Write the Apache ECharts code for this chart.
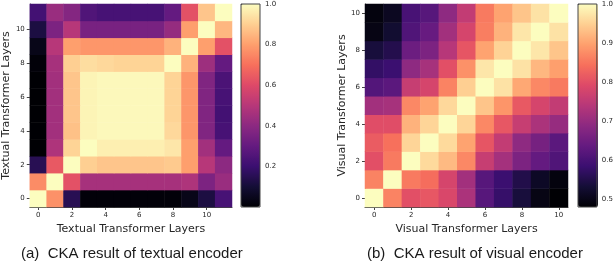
<!DOCTYPE html>
<html>
<head>
<meta charset="utf-8">
<script src="https://cdn.jsdelivr.net/npm/echarts@6/dist/echarts.min.js"></script>
<style>html,body{margin:0;padding:0;background:#fff;}#c{width:616px;height:262px;}</style>
</head>
<body>
<div id="c"></div>
<script>
// ---- data ----
const textualLayers = ['0','1','2','3','4','5','6','7','8','9','10','11'];
const visualLayers = ['0','1','2','3','4','5','6','7','8','9','10'];
// rows listed from layer 0 (bottom) upwards; each row lists columns 0..n
const textualCKA = [
  [1.00, 0.77, 0.15, 0.01, 0.01, 0.01, 0.01, 0.01, 0.01, 0.04, 0.12, 0.23],
  [0.76, 1.00, 0.62, 0.46, 0.46, 0.46, 0.46, 0.46, 0.46, 0.48, 0.36, 0.43],
  [0.15, 0.64, 1.00, 0.90, 0.88, 0.88, 0.88, 0.88, 0.89, 0.80, 0.50, 0.40],
  [0.00, 0.48, 0.91, 1.00, 0.97, 0.97, 0.97, 0.97, 0.95, 0.80, 0.45, 0.30],
  [0.00, 0.45, 0.87, 0.98, 0.99, 0.99, 0.99, 0.99, 0.92, 0.78, 0.37, 0.23],
  [0.00, 0.45, 0.88, 0.98, 0.99, 0.99, 0.99, 0.99, 0.91, 0.78, 0.37, 0.22],
  [0.00, 0.45, 0.88, 0.98, 0.99, 0.99, 0.99, 0.99, 0.91, 0.78, 0.37, 0.23],
  [0.00, 0.45, 0.88, 0.98, 0.99, 0.99, 0.99, 0.99, 0.91, 0.78, 0.37, 0.24],
  [0.01, 0.46, 0.90, 0.93, 0.92, 0.91, 0.91, 0.91, 1.00, 0.84, 0.44, 0.30],
  [0.04, 0.50, 0.80, 0.78, 0.78, 0.78, 0.78, 0.78, 0.84, 1.00, 0.80, 0.62],
  [0.12, 0.36, 0.50, 0.35, 0.35, 0.35, 0.35, 0.35, 0.42, 0.80, 1.00, 0.85],
  [0.22, 0.43, 0.38, 0.25, 0.23, 0.23, 0.23, 0.23, 0.30, 0.62, 0.88, 1.00]
];
const visualCKA = [
  [1.000, 0.865, 0.800, 0.810, 0.785, 0.725, 0.620, 0.578, 0.537, 0.497, 0.480],
  [0.865, 1.000, 0.855, 0.840, 0.780, 0.714, 0.620, 0.584, 0.550, 0.515, 0.490],
  [0.800, 0.855, 1.000, 0.960, 0.925, 0.870, 0.760, 0.717, 0.667, 0.636, 0.610],
  [0.818, 0.844, 0.955, 1.000, 0.960, 0.900, 0.808, 0.755, 0.690, 0.660, 0.625],
  [0.797, 0.797, 0.917, 0.955, 1.000, 0.955, 0.870, 0.810, 0.760, 0.725, 0.700],
  [0.714, 0.720, 0.870, 0.900, 0.958, 1.000, 0.937, 0.885, 0.813, 0.780, 0.755],
  [0.615, 0.625, 0.760, 0.780, 0.865, 0.948, 1.000, 0.970, 0.906, 0.870, 0.855],
  [0.574, 0.584, 0.690, 0.720, 0.800, 0.880, 0.974, 1.000, 0.970, 0.922, 0.896],
  [0.537, 0.553, 0.646, 0.667, 0.740, 0.808, 0.900, 0.953, 1.000, 0.974, 0.937],
  [0.497, 0.527, 0.610, 0.640, 0.714, 0.780, 0.860, 0.917, 0.974, 1.000, 0.970],
  [0.490, 0.510, 0.600, 0.620, 0.690, 0.755, 0.855, 0.900, 0.937, 0.970, 1.000]
];
const textualRange = [0.0, 1.0];
const visualRange = [0.48, 1.0];
const textualBarTicks = [0.2, 0.4, 0.6, 0.8, 1.0];
const visualBarTicks = [0.5, 0.6, 0.7, 0.8, 0.9, 1.0];
const textualTitle = 'Textual Transformer Layers';
const visualTitle = 'Visual Transformer Layers';
const captionA = '(a)  CKA result of textual encoder';
const captionB = '(b)  CKA result of visual encoder';

// ---- build ----
const magma = ['#000004','#140e36','#3b0f70','#641a80','#8c2981','#b73779','#de4968','#f7705c','#fe9f6d','#fecf92','#fcfdbf'];
function toTriples(m){const out=[];m.forEach((row,y)=>row.forEach((v,x)=>out.push([x,y,v])));return out;}
const FONT='"DejaVu Sans"';
const TXT='#262626';
const LINE='#444';
function catAxis(data, name, isX, gridIndex, nameGap){
  return {
    type:'category', data:data, gridIndex:gridIndex,
    position: isX ? 'bottom' : 'left',
    name:name, nameLocation:'middle', nameGap:nameGap,
    nameTextStyle:{fontFamily:FONT,fontSize:11,color:TXT},
    axisLine:{show:true,lineStyle:{color:LINE,width:1}},
    axisTick:{show:true,alignWithLabel:true,length:3,interval:(i)=>i%2===0,lineStyle:{color:LINE}},
    axisLabel:{fontFamily:FONT,fontSize:7,color:TXT,margin:5,interval:(i)=>i%2===0},
    splitLine:{show:false}, splitArea:{show:false}
  };
}
function barAxis(range, ticks, gridIndex){
  return {
    type:'value', gridIndex:gridIndex, position:'right', min:range[0], max:range[1],
    axisLine:{show:false},
    axisTick:{show:true,length:3,lineStyle:{color:LINE},customValues:ticks},
    axisLabel:{fontFamily:FONT,fontSize:7,color:TXT,margin:5,customValues:ticks,formatter:(v)=>v.toFixed(1)},
    splitLine:{show:false}
  };
}
const grids=[
  {left:29,top:4,width:203,height:203},
  {left:365,top:4,width:203,height:203},
  {left:241,top:4,width:19,height:203,show:true,borderColor:LINE,borderWidth:1,backgroundColor:'transparent',z:10},
  {left:578,top:4,width:20,height:203,show:true,borderColor:LINE,borderWidth:1,backgroundColor:'transparent',z:10}
];
const option={
  animation:false,
  backgroundColor:'#fff',
  grid:grids,
  xAxis:[
    catAxis(textualLayers,textualTitle,true,0,15),
    catAxis(visualLayers,visualTitle,true,1,15),
    {type:'value',gridIndex:2,show:false},
    {type:'value',gridIndex:3,show:false}
  ],
  yAxis:[
    catAxis(textualLayers,textualTitle,false,0,15),
    catAxis(visualLayers,visualTitle,false,1,17),
    barAxis(textualRange,textualBarTicks,2),
    barAxis(visualRange,visualBarTicks,3)
  ],
  visualMap:[
    {type:'continuous',seriesIndex:0,min:textualRange[0],max:textualRange[1],calculable:false,orient:'vertical',
     left:241,top:4,itemWidth:19,itemHeight:203,padding:0,text:null,showLabel:false,inRange:{color:magma},hoverLink:false},
    {type:'continuous',seriesIndex:1,min:visualRange[0],max:visualRange[1],calculable:false,orient:'vertical',
     left:578,top:4,itemWidth:20,itemHeight:203,padding:0,text:null,showLabel:false,inRange:{color:magma},hoverLink:false}
  ],
  title:[
    {text:captionA,left:21,top:246,padding:0,textStyle:{fontFamily:'"Liberation Sans"',fontSize:15,fontWeight:'normal',color:'#1a1a1a'}},
    {text:captionB,left:367,top:246,padding:0,textStyle:{fontFamily:'"Liberation Sans"',fontSize:15,fontWeight:'normal',color:'#1a1a1a'}}
  ],
  series:[
    {type:'heatmap',xAxisIndex:0,yAxisIndex:0,data:toTriples(textualCKA),emphasis:{disabled:true},progressive:0},
    {type:'heatmap',xAxisIndex:1,yAxisIndex:1,data:toTriples(visualCKA),emphasis:{disabled:true},progressive:0}
  ]
};
const chart=echarts.init(document.getElementById('c'),null,{renderer:'canvas'});
chart.setOption(option);
</script>
</body>
</html>
